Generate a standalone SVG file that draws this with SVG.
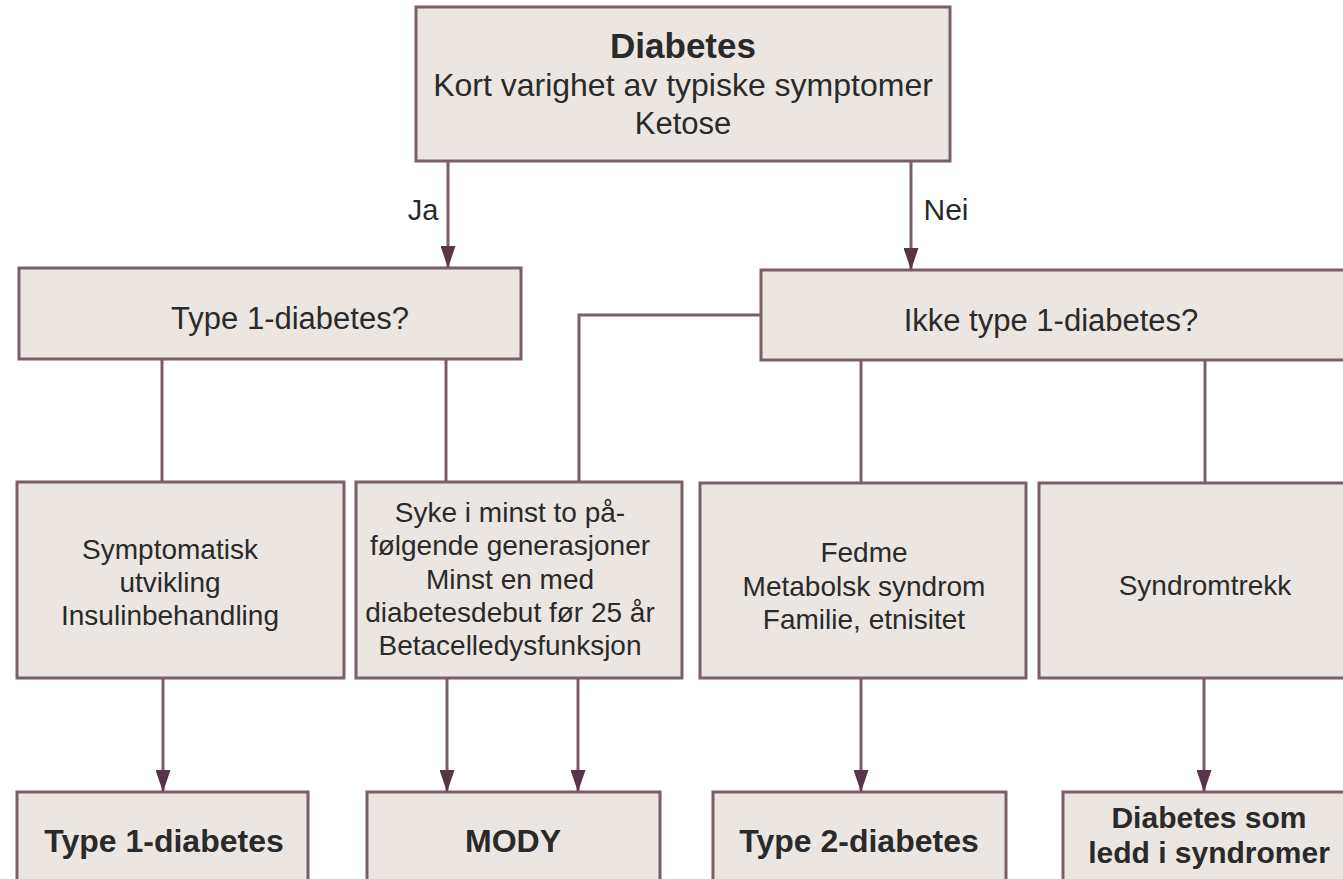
<svg xmlns="http://www.w3.org/2000/svg" width="1343" height="879" viewBox="0 0 1343 879">
<defs>
<style>
.box{fill:#ebe6e2;stroke:#7a5e68;stroke-width:3}
.con{fill:none;stroke:#7a5e68;stroke-width:3}
.t{font-family:"Liberation Sans",Arial,sans-serif;fill:#2a2a2a;text-anchor:middle}
.r28{font-size:28px}
.r31{font-size:31px}
.b32{font-size:32px;font-weight:bold}
.b30{font-size:30px;font-weight:bold}
</style>
<marker id="ah" viewBox="0 0 22 15" refX="22" refY="7.5" markerWidth="22" markerHeight="15" markerUnits="userSpaceOnUse" orient="auto">
<path d="M0,0 L22,7.5 L0,15 Z" fill="#5a3346"/>
</marker>
</defs>
<rect width="1343" height="879" fill="#ffffff"/>

<g id="n-diabetes">
<rect class="box" x="416" y="7" width="534" height="154"/>
<text class="t" x="683" y="58" style="font-size:35px;font-weight:bold">Diabetes</text>
<text class="t" x="683" y="96" style="font-size:32px">Kort varighet av typiske symptomer</text>
<text class="t r31" x="683" y="134">Ketose</text>
</g>

<g id="n-type1q">
<rect class="box" x="19" y="268" width="502" height="91"/>
<text class="t r31" x="290" y="329">Type 1-diabetes?</text>
</g>

<g id="n-ikketype1q">
<rect class="box" x="761" y="270" width="600" height="90"/>
<text class="t r31" x="1051" y="331">Ikke type 1-diabetes?</text>
</g>

<g id="n-symptomatisk">
<rect class="box" x="17" y="482" width="327" height="196"/>
<text class="t r28" x="170" y="559">Symptomatisk</text>
<text class="t r28" x="170" y="592">utvikling</text>
<text class="t r28" x="170" y="625">Insulinbehandling</text>
</g>

<g id="n-syke">
<rect class="box" x="356" y="482" width="326" height="196"/>
<text class="t r28" x="510" y="522">Syke i minst to på-</text>
<text class="t r28" x="510" y="555">følgende generasjoner</text>
<text class="t r28" x="510" y="589">Minst en med</text>
<text class="t r28" x="510" y="622">diabetesdebut før 25 år</text>
<text class="t r28" x="510" y="655">Betacelledysfunksjon</text>
</g>

<g id="n-fedme">
<rect class="box" x="700" y="483" width="326" height="195"/>
<text class="t r28" x="864" y="562">Fedme</text>
<text class="t r28" x="864" y="596">Metabolsk syndrom</text>
<text class="t r28" x="864" y="629">Familie, etnisitet</text>
</g>

<g id="n-syndromtrekk">
<rect class="box" x="1039" y="483" width="320" height="195"/>
<text class="t r28" x="1205" y="595">Syndromtrekk</text>
</g>

<g id="n-type1">
<rect class="box" x="17" y="792" width="291" height="100"/>
<text class="t b32" x="164" y="852">Type 1-diabetes</text>
</g>

<g id="n-mody">
<rect class="box" x="367" y="792" width="293" height="100"/>
<text class="t b32" x="513" y="852">MODY</text>
</g>

<g id="n-type2">
<rect class="box" x="713" y="792" width="293" height="100"/>
<text class="t b32" x="859" y="852">Type 2-diabetes</text>
</g>

<g id="n-syndromer">
<rect class="box" x="1063" y="792" width="300" height="100"/>
<text class="t b30" x="1209" y="828">Diabetes som</text>
<text class="t b30" x="1209" y="863">ledd i syndromer</text>
</g>

<g id="connectors">
<path class="con" d="M448,161 V268" marker-end="url(#ah)"/>
<path class="con" d="M911,161 V270" marker-end="url(#ah)"/>
<text class="t" x="423" y="220" style="font-size:29px">Ja</text>
<text class="t" x="946" y="220" style="font-size:30px">Nei</text>
<path class="con" d="M162,359 V482"/>
<path class="con" d="M446,359 V482"/>
<path class="con" d="M761,315 H579 V482"/>
<path class="con" d="M861,360 V483"/>
<path class="con" d="M1205,360 V483"/>
<path class="con" d="M163,678 V792" marker-end="url(#ah)"/>
<path class="con" d="M447,678 V792" marker-end="url(#ah)"/>
<path class="con" d="M578,678 V792" marker-end="url(#ah)"/>
<path class="con" d="M861,678 V792" marker-end="url(#ah)"/>
<path class="con" d="M1204,678 V792" marker-end="url(#ah)"/>
</g>
</svg>
